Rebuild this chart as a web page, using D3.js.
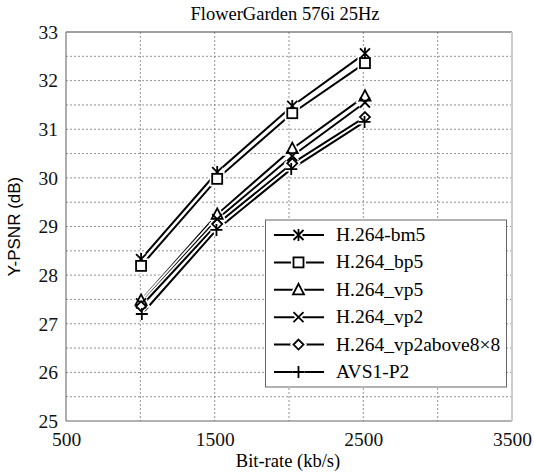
<!DOCTYPE html>
<html>
<head>
<meta charset="utf-8">
<script src="https://cdn.jsdelivr.net/npm/d3@7"></script>
<style>
  body { margin: 0; background: #fff; }
  svg { display: block; }
  .grid line { stroke: #777; stroke-width: 0.8; stroke-dasharray: 2,2; }
</style>
</head>
<body>
<svg id="chart" width="534" height="474"></svg>
<script>
// bit-rates (kb/s)
var rateH264 = [1005, 1517, 2022, 2511];
var rateAVS = [1010, 1512, 2015, 2508];

// Y-PSNR (dB) per codec setting
var bm5 = [28.33, 30.12, 31.48, 32.56];
var bp5 = [28.19, 29.98, 31.33, 32.36];
var vp5 = [27.48, 29.25, 30.6, 31.68];
var vp2 = [27.42, 29.15, 30.45, 31.55];
var vp2above = [27.36, 29.05, 30.3, 31.25];
var avs = [27.2, 28.93, 30.18, 31.15];

var seriesNames = ['H.264-bm5', 'H.264_bp5', 'H.264_vp5', 'H.264_vp2', 'H.264_vp2above8\u00d78', 'AVS1-P2'];
var seriesMarks = ['star', 'square', 'triangle', 'cross', 'diamond', 'plus'];

var xTicks = [500, 1500, 2500, 3500];
var xGrid = [1000, 1500, 2000, 2500, 3000];
var yTicks = [25, 26, 27, 28, 29, 30, 31, 32, 33];
var yGrid = [25.5, 26, 26.5, 27, 27.5, 28, 28.5, 29, 29.5, 30, 30.5, 31, 31.5, 32, 32.5];

var series = [
  { name: seriesNames[0], mark: seriesMarks[0], x: rateH264, y: bm5 },
  { name: seriesNames[1], mark: seriesMarks[1], x: rateH264, y: bp5 },
  { name: seriesNames[2], mark: seriesMarks[2], x: rateH264, y: vp5 },
  { name: seriesNames[3], mark: seriesMarks[3], x: rateH264, y: vp2 },
  { name: seriesNames[4], mark: seriesMarks[4], x: rateH264, y: vp2above },
  { name: seriesNames[5], mark: seriesMarks[5], x: rateAVS, y: avs }
];

(function() {
  var svg = d3.select('#chart');
  var pLeft = 66, pRight = 512, pTop = 32, pBottom = 421;
  var serif = '"Liberation Serif", "Times New Roman", serif';

  var x = d3.scaleLinear().domain([500, 3500]).range([pLeft, pRight]);
  var y = d3.scaleLinear().domain([25, 33]).range([pBottom, pTop]);

  // grid
  var grid = svg.append('g').attr('class', 'grid');
  grid.selectAll('line.v').data(xGrid).enter().append('line')
    .attr('x1', function(d) { return x(d); }).attr('x2', function(d) { return x(d); })
    .attr('y1', pTop).attr('y2', pBottom);
  grid.selectAll('line.h').data(yGrid).enter().append('line')
    .attr('x1', pLeft).attr('x2', pRight)
    .attr('y1', function(d) { return y(d); }).attr('y2', function(d) { return y(d); });

  // frame
  svg.append('line').attr('x1', pLeft).attr('x2', pRight).attr('y1', pTop).attr('y2', pTop)
    .attr('stroke', '#444').attr('stroke-width', 1.2);
  svg.append('line').attr('x1', pLeft).attr('x2', pRight).attr('y1', pBottom).attr('y2', pBottom)
    .attr('stroke', '#666').attr('stroke-width', 1.2);
  svg.append('line').attr('x1', pLeft).attr('x2', pLeft).attr('y1', pTop).attr('y2', pBottom)
    .attr('stroke', '#777').attr('stroke-width', 1.2);
  svg.append('line').attr('x1', pRight).attr('x2', pRight).attr('y1', pTop).attr('y2', pBottom)
    .attr('stroke', '#ccc').attr('stroke-width', 2);

  // axes (labels only, no tick marks)
  var xAxis = d3.axisBottom(x).tickValues(xTicks).tickSize(0).tickPadding(8).tickFormat(d3.format('d'));
  svg.append('g').attr('transform', 'translate(0,' + (pBottom + 3) + ')').call(xAxis)
    .call(function(g) { g.select('.domain').remove(); })
    .selectAll('text').attr('font-family', serif).attr('font-size', 19.5).attr('fill', '#111');

  var yAxis = d3.axisLeft(y).tickValues(yTicks).tickSize(0).tickPadding(8);
  svg.append('g').attr('transform', 'translate(' + pLeft + ',0)').call(yAxis)
    .call(function(g) { g.select('.domain').remove(); })
    .selectAll('text').attr('font-family', serif).attr('font-size', 19.5).attr('fill', '#111');

  // titles
  svg.append('text').attr('x', 285).attr('y', 20).attr('text-anchor', 'middle')
    .attr('font-family', serif).attr('font-size', 18.5).text('FlowerGarden 576i 25Hz');
  svg.append('text').attr('x', 288).attr('y', 467).attr('text-anchor', 'middle')
    .attr('font-family', serif).attr('font-size', 18.5).text('Bit-rate (kb/s)');
  svg.append('text').attr('transform', 'translate(20,' + ((pTop + pBottom) / 2) + ') rotate(-90)')
    .attr('text-anchor', 'middle')
    .attr('font-family', '"Liberation Sans", Arial, sans-serif').attr('font-size', 17)
    .text('Y-PSNR (dB)');

  function markerPath(m, type, s) {
    if (type === 'square') {
      m.append('rect').attr('x', -s).attr('y', -s).attr('width', 2 * s).attr('height', 2 * s);
    } else if (type === 'triangle') {
      m.append('path').attr('d', 'M0,' + (-s - 1) + 'L' + (s + 0.5) + ',' + (s - 0.5) + 'L' + (-s - 0.5) + ',' + (s - 0.5) + 'Z');
    } else if (type === 'diamond') {
      m.append('path').attr('d', 'M0,' + (-s) + 'L' + s + ',0L0,' + s + 'L' + (-s) + ',0Z');
    } else if (type === 'cross') {
      m.append('path').attr('d', 'M' + (-s) + ',' + (-s) + 'L' + s + ',' + s + 'M' + s + ',' + (-s) + 'L' + (-s) + ',' + s);
    } else if (type === 'plus') {
      m.append('path').attr('d', 'M' + (-s - 1) + ',0L' + (s + 1) + ',0M0,' + (-s - 1) + 'L0,' + (s + 1));
    } else if (type === 'star') {
      m.append('path').attr('d', 'M' + (-s) + ',' + (-s) + 'L' + s + ',' + s + 'M' + s + ',' + (-s) + 'L' + (-s) + ',' + s +
        'M0,' + (-s - 1) + 'L0,' + (s + 1));
    }
  }

  // white halo under a marker so the line stops short of it
  function drawHalo(g, type, cx, cy) {
    var h = g.append('g').attr('transform', 'translate(' + cx + ',' + cy + ')')
      .attr('fill', '#fff').attr('stroke', '#fff').attr('stroke-width', 5);
    markerPath(h, type, 5);
  }
  function drawMarker(g, type, cx, cy) {
    var m = g.append('g').attr('transform', 'translate(' + cx + ',' + cy + ')')
      .attr('fill', '#fff').attr('stroke', '#000').attr('stroke-width', 1.8);
    markerPath(m, type, 5);
  }

  // series lines with a white halo, markers on top
  var line = d3.line().x(function(d) { return x(d[0]); }).y(function(d) { return y(d[1]); });
  var plot = svg.append('g');
  series.forEach(function(sr) {
    var pts = d3.zip(sr.x, sr.y);
    plot.append('path').attr('d', line(pts)).attr('fill', 'none')
      .attr('stroke', '#fff').attr('stroke-width', 5.5);
    plot.append('path').attr('d', line(pts)).attr('fill', 'none')
      .attr('stroke', '#000').attr('stroke-width', 2);
  });
  series.forEach(function(sr) {
    d3.zip(sr.x, sr.y).forEach(function(p) { drawHalo(plot, sr.mark, x(p[0]), y(p[1])); });
  });
  series.forEach(function(sr) {
    d3.zip(sr.x, sr.y).forEach(function(p) { drawMarker(plot, sr.mark, x(p[0]), y(p[1])); });
  });

  // legend
  var lg = svg.append('g');
  lg.append('rect').attr('x', 265.5).attr('y', 220).attr('width', 241).attr('height', 167)
    .attr('fill', '#fff').attr('stroke', '#666').attr('stroke-width', 1);
  series.forEach(function(sr, i) {
    var ly = 235 + i * 27.4;
    lg.append('line').attr('x1', 274).attr('x2', 324).attr('y1', ly).attr('y2', ly)
      .attr('stroke', '#000').attr('stroke-width', 2);
    drawHalo(lg, sr.mark, 298.5, ly);
    drawMarker(lg, sr.mark, 298.5, ly);
    lg.append('text').attr('x', 336).attr('y', ly + 6)
      .attr('font-family', serif).attr('font-size', 19.5).text(sr.name);
  });
})();
</script>
</body>
</html>
